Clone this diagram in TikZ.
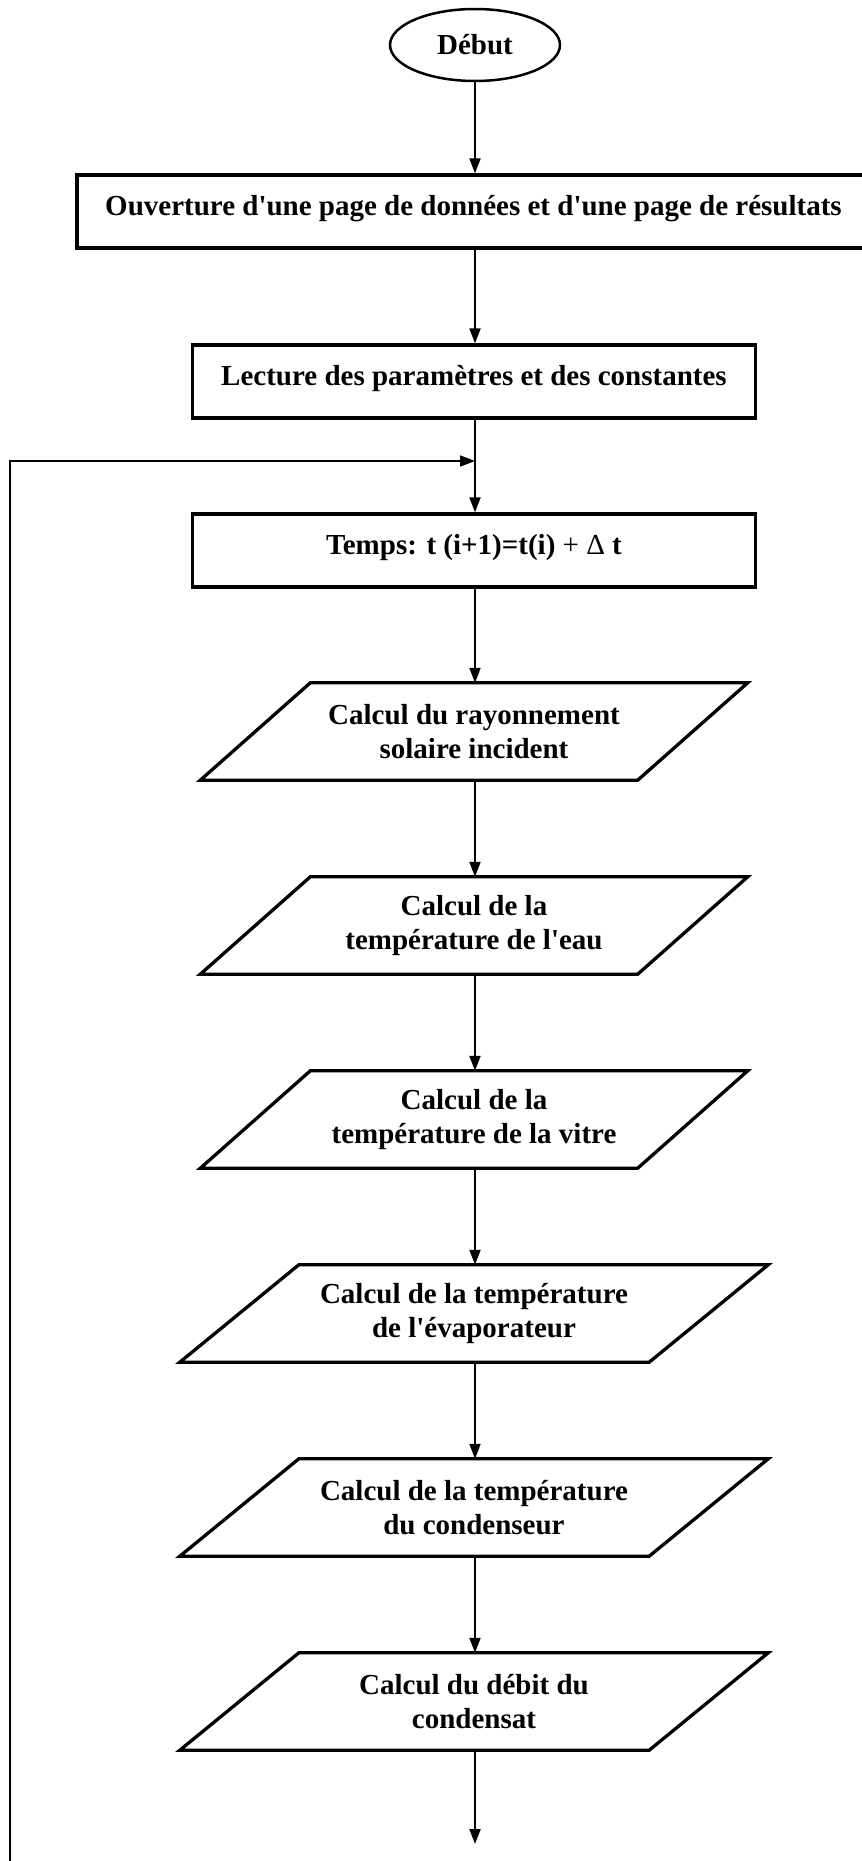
\documentclass[tikz,border=0pt]{standalone}
\usepackage{fontspec}
\setmainfont{Liberation Serif}[Ligatures=TeXOff]
\usetikzlibrary{arrows.meta,shapes.geometric}
\newcommand\drawpara[2]{%
  \draw[paraline] ([xshift=#2]#1.north west) -- ([xshift=#2]#1.north east)
    -- ([xshift=-#2]#1.south east) -- ([xshift=-#2]#1.south west) -- cycle;}
\begin{document}
\begin{tikzpicture}[x=1pt,y=-1pt,
  every node/.style={font=\fontsize{29}{34}\selectfont\bfseries},
  ovalbox/.style={ellipse, draw, line width=2.5pt, minimum width=170pt, minimum height=72pt, inner sep=0pt},
  rectbox/.style={rectangle, draw, line width=3.3pt, minimum height=73pt, inner sep=0pt, text height=22pt, text depth=15pt},
  parabox/.style={rectangle, draw=none, minimum height=97pt, inner sep=0pt, align=center},
  paraline/.style={line width=3.3pt, line join=miter},
  flow/.style={line width=2pt, -{Triangle[length=15pt,width=11pt]}},
  loopline/.style={line width=1.8pt, -{Triangle[length=15pt,width=11pt]}}
]
\useasboundingbox (0,0) rectangle (862,1861);

\node[ovalbox] (e) at (475,45) {Début};
\node[rectbox, minimum width=793pt] (b1) at (473.5,211.5) {Ouverture d'une page de données et d'une page de résultats};
\node[rectbox, minimum width=563pt] (b2) at (474,381.5) {Lecture des paramètres et des constantes};
\node[rectbox, minimum width=563pt] (t) at (474,550.5) {Temps: t (i+1)=t(i) {\mdseries + Δ} t};

\node[parabox, minimum width=437pt] (p1) at (474,731.5) {Calcul du rayonnement\\solaire incident};
\node[parabox, minimum width=437pt] (p2) at (474,925.5) {Calcul de la\\température de l'eau};
\node[parabox, minimum width=437pt] (p3) at (474,1119.5) {Calcul de la\\température de la vitre};
\node[parabox, minimum width=469pt] (p4) at (474,1313.5) {Calcul de la température\\de l'évaporateur};
\node[parabox, minimum width=469pt] (p5) at (474,1507.5) {Calcul de la température\\du condenseur};
\node[parabox, minimum width=469pt] (p6) at (474,1701.5) {Calcul du débit du\\condensat};

\drawpara{p1}{55pt}
\drawpara{p2}{55pt}
\drawpara{p3}{55pt}
\drawpara{p4}{59.5pt}
\drawpara{p5}{59.5pt}
\drawpara{p6}{59.5pt}

\coordinate (merge) at (475,461);
\coordinate (loopstart) at (10,1880);
\coordinate (fin) at (475,1844);

\draw[flow] (e.south) -- (e.south |- b1.north);
\draw[flow] (e.south |- b1.south) -- (e.south |- b2.north);
\draw[flow] (e.south |- b2.south) -- (e.south |- t.north);
\draw[loopline] (loopstart) |- (merge);
\draw[flow] (e.south |- t.south) -- (e.south |- p1.north);
\draw[flow] (e.south |- p1.south) -- (e.south |- p2.north);
\draw[flow] (e.south |- p2.south) -- (e.south |- p3.north);
\draw[flow] (e.south |- p3.south) -- (e.south |- p4.north);
\draw[flow] (e.south |- p4.south) -- (e.south |- p5.north);
\draw[flow] (e.south |- p5.south) -- (e.south |- p6.north);
\draw[flow] (e.south |- p6.south) -- (fin);
\end{tikzpicture}
\end{document}
